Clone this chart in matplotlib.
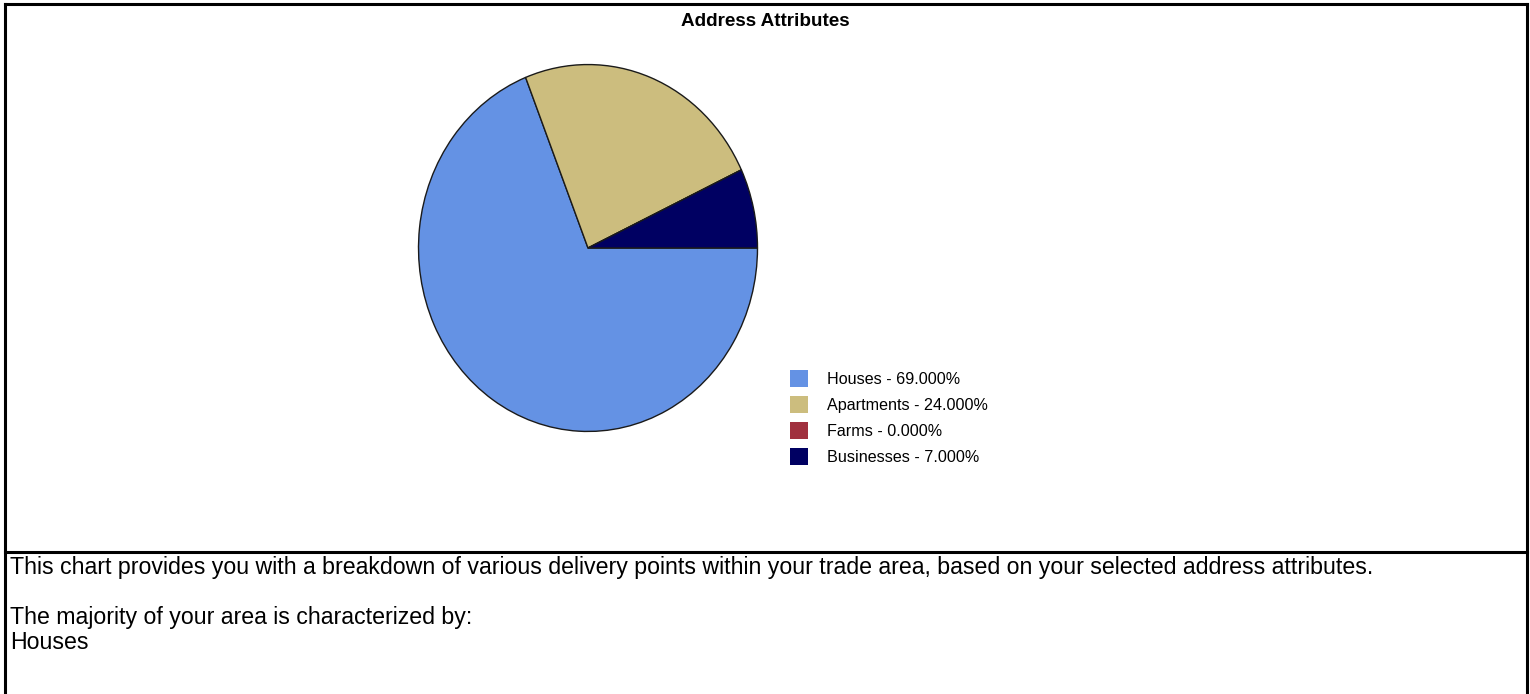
import matplotlib.pyplot as plt
from matplotlib.patches import Patch
from matplotlib.lines import Line2D

# data
categories = ['Houses', 'Apartments', 'Farms', 'Businesses']
shares = [69.0, 24.0, 0.0, 7.0]
colors = ['#6492E4', '#CCBD7E', '#A0303E', '#000062']
title = 'Address Attributes'
note_lines = [
    'This chart provides you with a breakdown of various delivery points within your trade area, based on your selected address attributes.',
    '',
    'The majority of your area is characterized by:',
    'Houses',
]

W, H = 1530, 694
fig = plt.figure(figsize=(W / 100, H / 100), dpi=100)

# pie axes: slightly taller than wide, like the original
cx, cy, rx, ry = 588, 248, 170, 184
ax = fig.add_axes([(cx - rx) / W, (H - cy - ry) / H, 2 * rx / W, 2 * ry / H])
ax.pie(shares, colors=colors, startangle=0, counterclock=False,
       wedgeprops=dict(edgecolor='#1a1a1a', linewidth=1.0))
ax.set_aspect('auto')
ax.set_xlim(-1.003, 1.003)
ax.set_ylim(-1.003, 1.003)
ax.axis('off')

handles = [Patch(facecolor=c, edgecolor='none') for c in colors]
labels = [f'{n} - {v:.3f}%' for n, v in zip(categories, shares)]
fig.legend(handles, labels, loc='upper left',
           bbox_to_anchor=(790 / W, 1 - 370 / H), frameon=False,
           prop={'family': ['Liberation Sans', 'DejaVu Sans'], 'size': 11.6},
           handlelength=1.1, handleheight=1.25, handletextpad=1.2,
           labelspacing=0.56, borderpad=0, borderaxespad=0)

fig.text(0.5, 1 - 22 / H, title, ha='center', va='center',
         fontsize=13.6, fontweight='bold', family=['Liberation Sans', 'DejaVu Sans'])

fig.text(10 / W, 1 - 556 / H, '\n'.join(note_lines), ha='left', va='top',
         fontsize=16.7, family=['Liberation Sans', 'DejaVu Sans'], linespacing=1.12)

# frame lines
lw = 2.2
fig.add_artist(Line2D([5 / W, 5 / W], [0, 1 - 4 / H], color='black', lw=lw, transform=fig.transFigure))
fig.add_artist(Line2D([1527 / W, 1527 / W], [0, 1 - 4 / H], color='black', lw=lw, transform=fig.transFigure))
fig.add_artist(Line2D([5 / W, 1527 / W], [1 - 4 / H, 1 - 4 / H], color='black', lw=lw, transform=fig.transFigure))
fig.add_artist(Line2D([5 / W, 1527 / W], [1 - 552 / H, 1 - 552 / H], color='black', lw=lw, transform=fig.transFigure))

fig.savefig('out.png', dpi=100)
